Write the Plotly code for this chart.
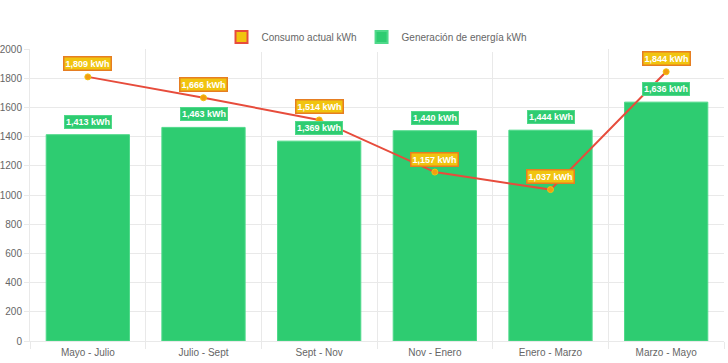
import plotly.graph_objects as go

categories = ["Mayo - Julio", "Julio - Sept", "Sept - Nov", "Nov - Enero", "Enero - Marzo", "Marzo - Mayo"]
consumo = [1809, 1666, 1514, 1157, 1037, 1844]
generacion = [1413, 1463, 1369, 1440, 1444, 1636]
y_ticks = [0, 200, 400, 600, 800, 1000, 1200, 1400, 1600, 1800, 2000]

FONT = "Liberation Sans, Arial, sans-serif"

fig = go.Figure()

# legend proxy for the line series (box swatch like the original)
fig.add_trace(go.Bar(
    x=[categories[0]], y=[None], name="Consumo actual kWh",
    marker=dict(color="#f1c40f", line=dict(color="#e74c3c", width=2)),
    showlegend=True, hoverinfo="skip",
))

fig.add_trace(go.Bar(
    x=categories, y=generacion, name="Generación de energía kWh",
    marker=dict(color="#2ecc71", line=dict(color="#4fd98a", width=1)),
))

fig.add_trace(go.Scatter(
    x=categories, y=consumo, name="Consumo actual kWh", mode="lines+markers",
    line=dict(color="#e74c3c", width=2),
    marker=dict(color="#f39c12", size=6, line=dict(color="#f1c40f", width=1)),
    showlegend=False,
))

annotations = []
for c, v in zip(categories, generacion):
    annotations.append(dict(
        x=c, y=v, xref="x", yref="y", text="<b>{:,} kWh</b>".format(v),
        showarrow=False, yshift=13, yanchor="middle",
        font=dict(family=FONT, size=9, color="white"),
        bgcolor="#2ecc71", bordercolor="#4fd98a", borderwidth=1, borderpad=1,
    ))
for c, v in zip(categories, consumo):
    annotations.append(dict(
        x=c, y=v, xref="x", yref="y", text="<b>{:,} kWh</b>".format(v),
        showarrow=False, yshift=13, yanchor="middle",
        font=dict(family=FONT, size=9, color="white"),
        bgcolor="#f1c40f", bordercolor="#e67e22", borderwidth=1.5, borderpad=1,
    ))

fig.update_layout(
    width=728, height=363,
    margin=dict(l=30, r=4, t=49, b=22, autoexpand=False),
    paper_bgcolor="white", plot_bgcolor="white",
    barmode="overlay", bargap=0.28,
    font=dict(family=FONT, size=10, color="#666"),
    legend=dict(orientation="h", x=0.5, xanchor="center", y=1.041, yanchor="middle",
                font=dict(size=10, color="#666"), itemsizing="constant",
                traceorder="normal"),
    annotations=annotations,
    showlegend=True,
)

fig.update_xaxes(
    type="category", tickson="boundaries", showgrid=True, gridcolor="#e9e9e9",
    ticks="outside", ticklen=7, tickcolor="#e9e9e9", automargin=False,
    ticklabelstandoff=2,
    showline=True, linecolor="#e9e9e9", tickfont=dict(size=10, color="#666"),
)
fig.update_yaxes(
    range=[0, 2000], tickvals=y_ticks, showgrid=True, gridcolor="#e9e9e9",
    ticks="outside", ticklen=5, tickcolor="#e9e9e9", showline=True, linecolor="#e9e9e9",
    zeroline=True, zerolinecolor="#d6d6d6", zerolinewidth=1, automargin=False,
    tickfont=dict(size=10, color="#666"),
)

fig.write_html("out.html", config={"displayModeBar": False},
               post_script="document.body.style.margin='0';")
